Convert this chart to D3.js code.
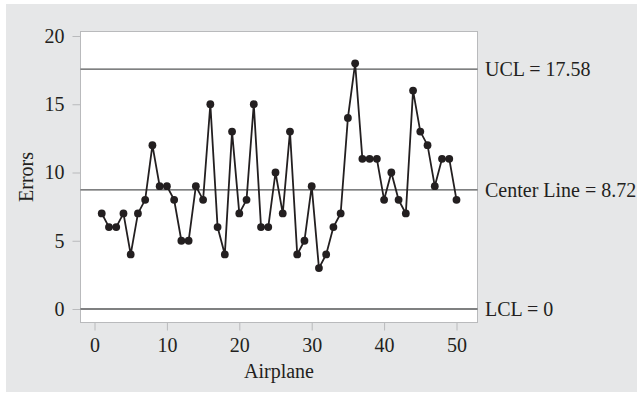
<!DOCTYPE html>
<html><head><meta charset="utf-8">
<script src="https://cdn.jsdelivr.net/npm/d3@7"></script>
<style>html,body{margin:0;padding:0;background:#fff;}svg{display:block;}</style>
</head><body>
<script>
const airplanes = d3.range(1, 51);
const errors = [7,6,6,7,4,7,8,12,9,9,8,5,5,9,8,15,6,4,13,7,8,15,6,6,10,7,13,4,5,9,3,4,6,7,14,18,11,11,11,8,10,8,7,16,13,12,9,11,11,8];
const xTicks = [0,10,20,30,40,50];
const yTicks = [0,5,10,15,20];
const limitValues = [17.58, 8.72, 0];
const limitLabels = ["UCL = 17.58", "Center Line = 8.72", "LCL = 0"];

const W = 639, H = 395;
const font = "'Liberation Serif', 'DejaVu Serif', serif";
const fs = "20px";
const fr = {left: 80.5, right: 477.5, top: 31.5, bottom: 322.5};

const svg = d3.select("body").append("svg").attr("width", W).attr("height", H);
svg.append("rect").attr("x", 6).attr("y", 4).attr("width", 631).attr("height", 388).attr("fill", "#e6e7e8");
svg.append("rect").attr("x", fr.left).attr("y", fr.top).attr("width", fr.right - fr.left).attr("height", fr.bottom - fr.top)
  .attr("fill", "#fff").attr("stroke", "#b9babc").attr("stroke-width", 1);

const x = d3.scaleLinear().domain([0, 50]).range([94.5, 456.5]);
const y = d3.scaleLinear().domain([0, 20]).range([309, 36]);

const xAxis = svg.append("g").attr("transform", `translate(0,${fr.bottom})`)
  .call(d3.axisBottom(x).tickValues(xTicks).tickSize(8).tickPadding(7));
const yAxis = svg.append("g").attr("transform", `translate(${fr.left},0)`)
  .call(d3.axisLeft(y).tickValues(yTicks).tickSize(8).tickPadding(8));
[xAxis, yAxis].forEach(a => {
  a.select(".domain").remove();
  a.selectAll(".tick line").attr("stroke", "#b9babc");
  a.selectAll(".tick text").attr("fill", "#231f20").style("font-family", font).style("font-size", fs);
});

svg.selectAll(".lim").data(limitValues).enter().append("line")
  .attr("x1", fr.left).attr("x2", fr.right)
  .attr("y1", d => y(d)).attr("y2", d => y(d))
  .attr("stroke", "#555657").attr("stroke-width", 1.3);
svg.selectAll(".limlab").data(limitValues).enter().append("text")
  .attr("x", 485).attr("y", d => y(d)).attr("dy", "0.34em")
  .attr("fill", "#231f20").style("font-family", font).style("font-size", fs)
  .text((d, i) => limitLabels[i]);

const pts = airplanes.map((a, i) => [a, errors[i]]);
svg.append("path").datum(pts)
  .attr("fill", "none").attr("stroke", "#231f20").attr("stroke-width", 1.8)
  .attr("d", d3.line().x(d => x(d[0])).y(d => y(d[1])));
svg.selectAll(".pt").data(pts).enter().append("circle")
  .attr("cx", d => x(d[0])).attr("cy", d => y(d[1])).attr("r", 3.9).attr("fill", "#231f20");

svg.append("text").attr("x", (fr.left + fr.right) / 2).attr("y", 378).attr("text-anchor", "middle")
  .attr("fill", "#231f20").style("font-family", font).style("font-size", fs).text("Airplane");
svg.append("text").attr("transform", `translate(33,${(fr.top + fr.bottom) / 2}) rotate(-90)`).attr("text-anchor", "middle")
  .attr("fill", "#231f20").style("font-family", font).style("font-size", fs).text("Errors");
</script>
</body></html>
